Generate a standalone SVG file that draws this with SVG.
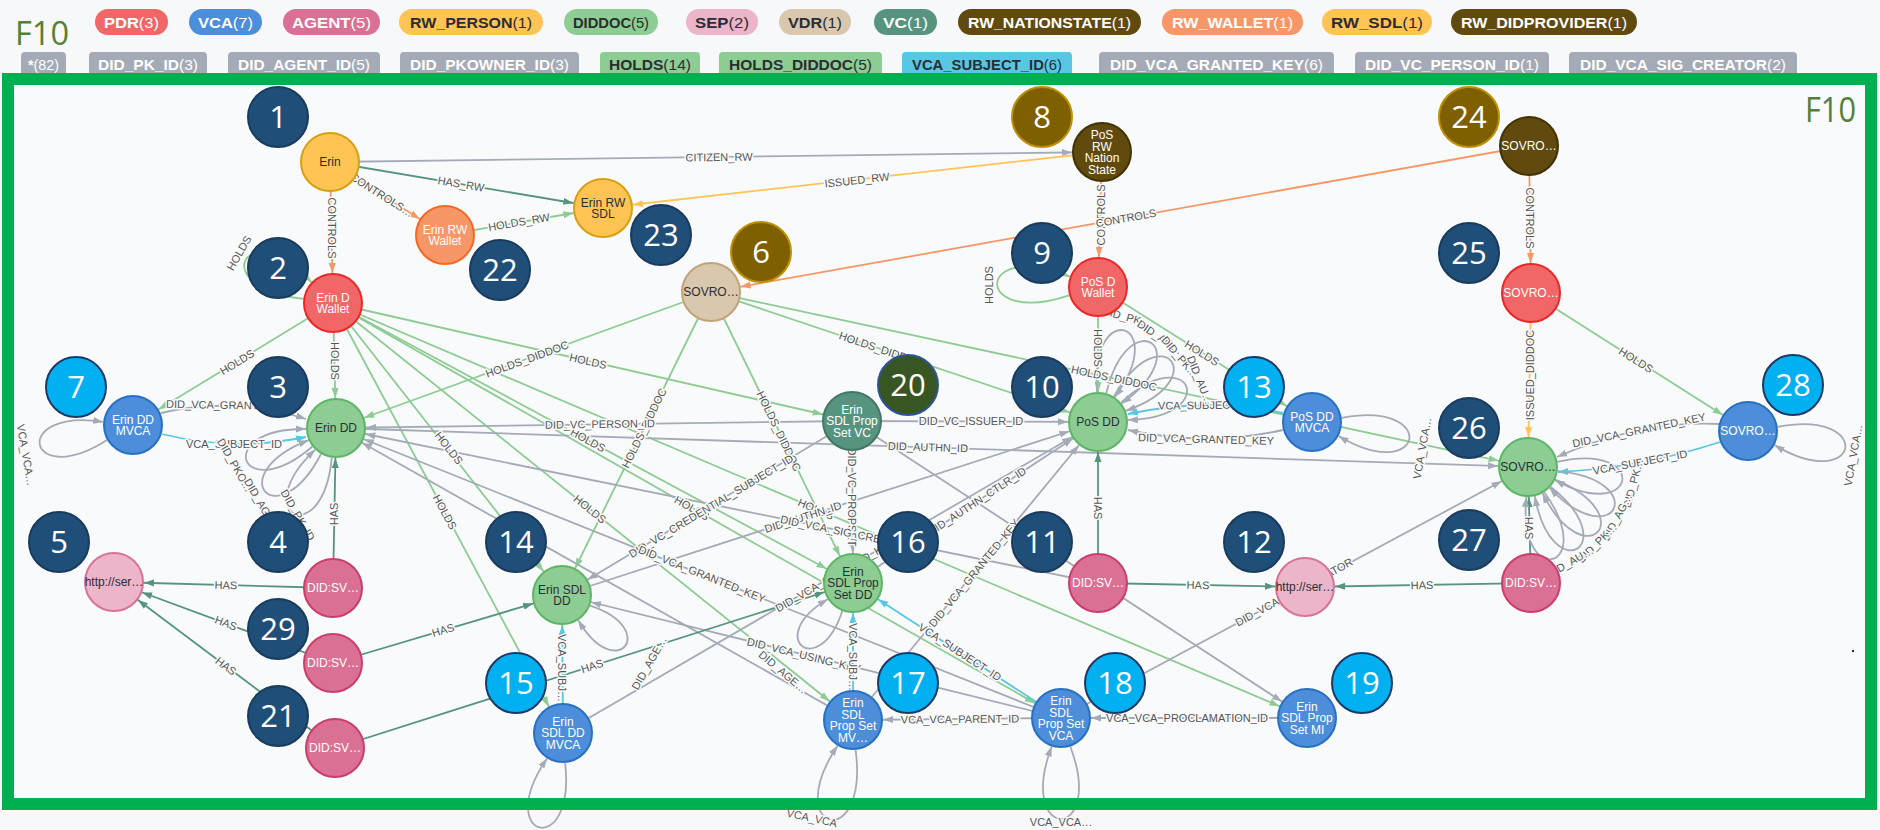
<svg xmlns="http://www.w3.org/2000/svg" width="1880" height="830" viewBox="0 0 1880 830">
<style>
.ln{fill:none;stroke-width:1.8}
.g{stroke:#a5abb6}.h{stroke:#8dcc93}.t{stroke:#569480}.o{stroke:#f79767}.y{stroke:#ffc454}.b{stroke:#57c7e3}
.el{font-family:"Liberation Sans Narrow","Liberation Sans",sans-serif;font-size:11px;fill:#555;text-anchor:middle;paint-order:stroke;stroke:#f9fafb;stroke-width:3px;stroke-linejoin:round}
.nd circle{stroke-width:2}
.nl{font-family:"Liberation Sans",Arial,sans-serif;font-size:12px;text-anchor:middle}
.w{fill:#fff}.d{fill:#2b2d33}
.pdr{fill:#f16667;stroke:#eb2728}.vca{fill:#4c8eda;stroke:#2870c2}.agent{fill:#da7194;stroke:#cc3c6c}
.yel{fill:#ffc454;stroke:#d7a013}.diddoc{fill:#8dcc93;stroke:#5db665}.sep{fill:#ecb5c9;stroke:#da7298}
.vdr{fill:#d9c8ae;stroke:#c0a378}.vc{fill:#569480;stroke:#447666}.brn{fill:#604a0e;stroke:#423204}.wal{fill:#f79767;stroke:#f36924}
.bd circle{stroke-width:2}
.bd text{font-family:"Open Sans","Noto Sans",sans-serif;font-size:31px;fill:#fff;text-anchor:middle}
.bn{fill:#1f4e79;stroke:#1a3b5c}.bl{fill:#00b0f0;stroke:#203864}.bo{fill:#7f6000;stroke:#bf9000}.bgr{fill:#375623;stroke:#2f5597}
.lg{font-family:"Liberation Sans",Arial,sans-serif;font-size:15px;text-anchor:middle}
.lg2{font-size:14.5px}
.lg tspan.c{font-weight:normal}
.f10{font-family:"Open Sans","Noto Sans",sans-serif;fill:#538135}
</style>
<defs>
<marker id="mg" markerWidth="10" markerHeight="8" refX="40" refY="4" orient="auto" markerUnits="userSpaceOnUse"><path d="M0,0.5L10,4L0,7.5z" fill="#a5abb6"/></marker>
<marker id="mh" markerWidth="10" markerHeight="8" refX="40" refY="4" orient="auto" markerUnits="userSpaceOnUse"><path d="M0,0.5L10,4L0,7.5z" fill="#8dcc93"/></marker>
<marker id="mt" markerWidth="10" markerHeight="8" refX="40" refY="4" orient="auto" markerUnits="userSpaceOnUse"><path d="M0,0.5L10,4L0,7.5z" fill="#569480"/></marker>
<marker id="mo" markerWidth="10" markerHeight="8" refX="40" refY="4" orient="auto" markerUnits="userSpaceOnUse"><path d="M0,0.5L10,4L0,7.5z" fill="#f79767"/></marker>
<marker id="my" markerWidth="10" markerHeight="8" refX="40" refY="4" orient="auto" markerUnits="userSpaceOnUse"><path d="M0,0.5L10,4L0,7.5z" fill="#ffc454"/></marker>
<marker id="mb" markerWidth="10" markerHeight="8" refX="40" refY="4" orient="auto" markerUnits="userSpaceOnUse"><path d="M0,0.5L10,4L0,7.5z" fill="#57c7e3"/></marker>
<marker id="tg" markerWidth="10" markerHeight="8" refX="10" refY="4" orient="auto" markerUnits="userSpaceOnUse"><path d="M0,0.5L10,4L0,7.5z" fill="#a5abb6"/></marker>
<marker id="th" markerWidth="10" markerHeight="8" refX="10" refY="4" orient="auto" markerUnits="userSpaceOnUse"><path d="M0,0.5L10,4L0,7.5z" fill="#8dcc93"/></marker>
<marker id="tb" markerWidth="10" markerHeight="8" refX="10" refY="4" orient="auto" markerUnits="userSpaceOnUse"><path d="M0,0.5L10,4L0,7.5z" fill="#57c7e3"/></marker>
</defs>
<rect x="0" y="0" width="1880" height="830" fill="#f7f8fa"/>
<rect x="14" y="85" width="1851" height="713" fill="#f9fafb"/>

<g id="legend">
<text class="f10" x="15" y="45" font-size="32" textLength="54" lengthAdjust="spacingAndGlyphs">F10</text>
<rect x="95" y="9" width="73" height="26" rx="13" fill="#f16667"/><text class="lg w" x="131.5" y="27.5" textLength="55" lengthAdjust="spacingAndGlyphs"><tspan font-weight="bold">PDR</tspan><tspan class="c">(3)</tspan></text>
<rect x="189" y="9" width="73" height="26" rx="13" fill="#4c8eda"/><text class="lg w" x="225.5" y="27.5" textLength="55" lengthAdjust="spacingAndGlyphs"><tspan font-weight="bold">VCA</tspan><tspan class="c">(7)</tspan></text>
<rect x="283" y="9" width="97" height="26" rx="13" fill="#da7194"/><text class="lg w" x="331.5" y="27.5" textLength="79" lengthAdjust="spacingAndGlyphs"><tspan font-weight="bold">AGENT</tspan><tspan class="c">(5)</tspan></text>
<rect x="399" y="9" width="144" height="26" rx="13" fill="#ffc454"/><text class="lg d" x="471" y="27.5" textLength="122" lengthAdjust="spacingAndGlyphs"><tspan font-weight="bold">RW_PERSON</tspan><tspan class="c">(1)</tspan></text>
<rect x="564" y="9" width="94" height="26" rx="13" fill="#8dcc93"/><text class="lg d" x="611" y="27.5" textLength="76" lengthAdjust="spacingAndGlyphs"><tspan font-weight="bold">DIDDOC</tspan><tspan class="c">(5)</tspan></text>
<rect x="686" y="9" width="72" height="26" rx="13" fill="#ecb5c9"/><text class="lg d" x="722" y="27.5" textLength="54" lengthAdjust="spacingAndGlyphs"><tspan font-weight="bold">SEP</tspan><tspan class="c">(2)</tspan></text>
<rect x="779" y="9" width="72" height="26" rx="13" fill="#d9c8ae"/><text class="lg d" x="815" y="27.5" textLength="54" lengthAdjust="spacingAndGlyphs"><tspan font-weight="bold">VDR</tspan><tspan class="c">(1)</tspan></text>
<rect x="874" y="9" width="63" height="26" rx="13" fill="#569480"/><text class="lg w" x="905.5" y="27.5" textLength="45" lengthAdjust="spacingAndGlyphs"><tspan font-weight="bold">VC</tspan><tspan class="c">(1)</tspan></text>
<rect x="958" y="9" width="183" height="26" rx="13" fill="#604a0e"/><text class="lg w" x="1049.5" y="27.5" textLength="163" lengthAdjust="spacingAndGlyphs"><tspan font-weight="bold">RW_NATIONSTATE</tspan><tspan class="c">(1)</tspan></text>
<rect x="1162" y="9" width="141" height="26" rx="13" fill="#f79767"/><text class="lg w" x="1232.5" y="27.5" textLength="121" lengthAdjust="spacingAndGlyphs"><tspan font-weight="bold">RW_WALLET</tspan><tspan class="c">(1)</tspan></text>
<rect x="1322" y="9" width="110" height="26" rx="13" fill="#ffc454"/><text class="lg d" x="1377" y="27.5" textLength="92" lengthAdjust="spacingAndGlyphs"><tspan font-weight="bold">RW_SDL</tspan><tspan class="c">(1)</tspan></text>
<rect x="1451" y="9" width="186" height="26" rx="13" fill="#604a0e"/><text class="lg w" x="1544" y="27.5" textLength="166" lengthAdjust="spacingAndGlyphs"><tspan font-weight="bold">RW_DIDPROVIDER</tspan><tspan class="c">(1)</tspan></text>
<rect x="21" y="52" width="45" height="26" rx="4" fill="#a5abb6"/><text class="lg lg2 w" x="43.5" y="70" textLength="31" lengthAdjust="spacingAndGlyphs"><tspan font-weight="bold">*</tspan><tspan class="c">(82)</tspan></text>
<rect x="89" y="52" width="118" height="26" rx="4" fill="#a5abb6"/><text class="lg lg2 w" x="148" y="70" textLength="100" lengthAdjust="spacingAndGlyphs"><tspan font-weight="bold">DID_PK_ID</tspan><tspan class="c">(3)</tspan></text>
<rect x="228" y="52" width="152" height="26" rx="4" fill="#a5abb6"/><text class="lg lg2 w" x="304" y="70" textLength="132" lengthAdjust="spacingAndGlyphs"><tspan font-weight="bold">DID_AGENT_ID</tspan><tspan class="c">(5)</tspan></text>
<rect x="400" y="52" width="179" height="26" rx="4" fill="#a5abb6"/><text class="lg lg2 w" x="489.5" y="70" textLength="159" lengthAdjust="spacingAndGlyphs"><tspan font-weight="bold">DID_PKOWNER_ID</tspan><tspan class="c">(3)</tspan></text>
<rect x="600" y="52" width="100" height="26" rx="4" fill="#8dcc93"/><text class="lg lg2 d" x="650" y="70" textLength="82" lengthAdjust="spacingAndGlyphs"><tspan font-weight="bold">HOLDS</tspan><tspan class="c">(14)</tspan></text>
<rect x="719" y="52" width="163" height="26" rx="4" fill="#8dcc93"/><text class="lg lg2 d" x="800.5" y="70" textLength="143" lengthAdjust="spacingAndGlyphs"><tspan font-weight="bold">HOLDS_DIDDOC</tspan><tspan class="c">(5)</tspan></text>
<rect x="902" y="52" width="170" height="26" rx="4" fill="#57c7e3"/><text class="lg lg2 d" x="987" y="70" textLength="150" lengthAdjust="spacingAndGlyphs"><tspan font-weight="bold">VCA_SUBJECT_ID</tspan><tspan class="c">(6)</tspan></text>
<rect x="1099" y="52" width="235" height="26" rx="4" fill="#a5abb6"/><text class="lg lg2 w" x="1216.5" y="70" textLength="213" lengthAdjust="spacingAndGlyphs"><tspan font-weight="bold">DID_VCA_GRANTED_KEY</tspan><tspan class="c">(6)</tspan></text>
<rect x="1355" y="52" width="194" height="26" rx="4" fill="#a5abb6"/><text class="lg lg2 w" x="1452" y="70" textLength="174" lengthAdjust="spacingAndGlyphs"><tspan font-weight="bold">DID_VC_PERSON_ID</tspan><tspan class="c">(1)</tspan></text>
<rect x="1569" y="52" width="228" height="26" rx="4" fill="#a5abb6"/><text class="lg lg2 w" x="1683" y="70" textLength="206" lengthAdjust="spacingAndGlyphs"><tspan font-weight="bold">DID_VCA_SIG_CREATOR</tspan><tspan class="c">(2)</tspan></text>
</g>

<g id="connectors">
<g id="edge-lines">
<line class="ln g" x1="330" y1="162" x2="1102" y2="152" marker-end="url(#mg)"/>
<line class="ln t" x1="330" y1="162" x2="603" y2="208" marker-end="url(#mt)"/>
<line class="ln o" x1="330" y1="162" x2="445" y2="235" marker-end="url(#mo)"/>
<line class="ln o" x1="330" y1="162" x2="333" y2="303" marker-end="url(#mo)"/>
<line class="ln h" x1="445" y1="235" x2="603" y2="208" marker-end="url(#mh)"/>
<line class="ln y" x1="1102" y1="152" x2="603" y2="208" marker-end="url(#my)"/>
<line class="ln o" x1="1102" y1="152" x2="1098" y2="287" marker-end="url(#mo)"/>
<line class="ln o" x1="1529" y1="146" x2="711" y2="292" marker-end="url(#mo)"/>
<line class="ln o" x1="1529" y1="146" x2="1531" y2="293" marker-end="url(#mo)"/>
<line class="ln y" x1="1531" y1="293" x2="1528" y2="467" marker-end="url(#my)"/>
<line class="ln h" x1="1531" y1="293" x2="1748" y2="431" marker-end="url(#mh)"/>
<path class="ln h" d="M303.3,298.8C205.6,289.6 244,211 311.4,282.2" marker-end="url(#th)"/>
<line class="ln h" x1="333" y1="303" x2="336" y2="428" marker-end="url(#mh)"/>
<line class="ln h" x1="333" y1="303" x2="133" y2="425" marker-end="url(#mh)"/>
<line class="ln h" x1="333" y1="303" x2="852" y2="421" marker-end="url(#mh)"/>
<line class="ln h" x1="333" y1="303" x2="563" y2="733" marker-end="url(#mh)"/>
<line class="ln h" x1="333" y1="303" x2="562" y2="595" marker-end="url(#mh)"/>
<line class="ln h" x1="333" y1="303" x2="853" y2="583" marker-end="url(#mh)"/>
<line class="ln h" x1="333" y1="303" x2="853" y2="720" marker-end="url(#mh)"/>
<line class="ln h" x1="333" y1="303" x2="1061" y2="718" marker-end="url(#mh)"/>
<line class="ln h" x1="333" y1="303" x2="1307" y2="718" marker-end="url(#mh)"/>
<line class="ln h" x1="711" y1="292" x2="336" y2="428" marker-end="url(#mh)"/>
<line class="ln h" x1="711" y1="292" x2="562" y2="595" marker-end="url(#mh)"/>
<line class="ln h" x1="711" y1="292" x2="853" y2="583" marker-end="url(#mh)"/>
<line class="ln h" x1="711" y1="292" x2="1098" y2="422" marker-end="url(#mh)"/>
<line class="ln h" x1="711" y1="292" x2="1528" y2="467" marker-end="url(#mh)"/>
<path class="ln h" d="M1069.2,295.3C971.5,328.1 974.7,237.1 1069.8,276.7" marker-end="url(#th)"/>
<line class="ln h" x1="1098" y1="287" x2="1098" y2="422" marker-end="url(#mh)"/>
<line class="ln h" x1="1098" y1="287" x2="1312" y2="422" marker-end="url(#mh)"/>
<line class="ln g" x1="852" y1="421" x2="1098" y2="422" marker-end="url(#mg)"/>
<line class="ln g" x1="852" y1="421" x2="336" y2="428" marker-end="url(#mg)"/>
<line class="ln g" x1="336" y1="428" x2="1528" y2="467" marker-end="url(#mg)"/>
<path class="ln g" d="M1283,430Q1206,447 1128,430" marker-end="url(#tg)"/>
<path class="ln b" d="M1283,413Q1206,397 1128,414" marker-end="url(#tb)"/>
<line class="ln g" x1="563" y1="733" x2="1098" y2="422" marker-end="url(#mg)"/>
<line class="ln g" x1="853" y1="720" x2="1098" y2="422" marker-end="url(#mg)"/>
<line class="ln g" x1="853" y1="583" x2="1098" y2="422" marker-end="url(#mg)"/>
<line class="ln g" x1="562" y1="595" x2="1098" y2="422" marker-end="url(#mg)"/>
<line class="ln g" x1="852" y1="421" x2="562" y2="595" marker-end="url(#mg)"/>
<line class="ln g" x1="1061" y1="718" x2="336" y2="428" marker-end="url(#mg)"/>
<line class="ln g" x1="1061" y1="718" x2="562" y2="595" marker-end="url(#mg)"/>
<line class="ln g" x1="852" y1="421" x2="853" y2="583" marker-end="url(#mg)"/>
<line class="ln g" x1="852" y1="421" x2="1307" y2="718" marker-end="url(#mg)"/>
<line class="ln g" x1="853" y1="720" x2="336" y2="428" marker-end="url(#mg)"/>
<line class="ln g" x1="1098" y1="583" x2="336" y2="428" marker-end="url(#mg)"/>
<line class="ln g" x1="1061" y1="718" x2="1528" y2="467" marker-end="url(#mg)"/>
<line class="ln g" x1="1061" y1="718" x2="853" y2="720" marker-end="url(#mg)"/>
<line class="ln g" x1="1307" y1="718" x2="1061" y2="718" marker-end="url(#mg)"/>
<line class="ln b" x1="1061" y1="718" x2="853" y2="583" marker-end="url(#mb)"/>
<line class="ln b" x1="853" y1="720" x2="853" y2="583" marker-end="url(#mb)"/>
<line class="ln b" x1="563" y1="733" x2="562" y2="595" marker-end="url(#mb)"/>
<path class="ln g" d="M161,413Q234,396 306,419" marker-end="url(#tg)"/>
<path class="ln b" d="M162,434Q234,452 306,437" marker-end="url(#tb)"/>
<line class="ln t" x1="333" y1="588" x2="114" y2="582" marker-end="url(#mt)"/>
<line class="ln t" x1="333" y1="588" x2="336" y2="428" marker-end="url(#mt)"/>
<line class="ln t" x1="333" y1="663" x2="114" y2="582" marker-end="url(#mt)"/>
<line class="ln t" x1="333" y1="663" x2="562" y2="595" marker-end="url(#mt)"/>
<line class="ln t" x1="335" y1="748" x2="114" y2="582" marker-end="url(#mt)"/>
<line class="ln t" x1="335" y1="748" x2="853" y2="583" marker-end="url(#mt)"/>
<line class="ln t" x1="1098" y1="583" x2="1098" y2="422" marker-end="url(#mt)"/>
<line class="ln t" x1="1098" y1="583" x2="1305" y2="587" marker-end="url(#mt)"/>
<line class="ln t" x1="1531" y1="583" x2="1528" y2="467" marker-end="url(#mt)"/>
<line class="ln t" x1="1531" y1="583" x2="1305" y2="587" marker-end="url(#mt)"/>
<path class="ln g" d="M1719,424Q1640,420 1557,457" marker-end="url(#tg)"/>
<path class="ln b" d="M1720,442Q1641,468 1558,472" marker-end="url(#tb)"/>
<path class="ln g" d="M312.4,446.5C240.2,508.4 211,428 306,429" marker-end="url(#tg)"/>
<path class="ln g" d="M321,454C277.3,538.4 220.1,474.8 308.6,440.2" marker-end="url(#tg)"/>
<path class="ln g" d="M331.8,457.7C322.9,552.4 246.1,514.8 315.2,449.6" marker-end="url(#tg)"/>
<path class="ln g" d="M1097,392C1089.3,297.3 1171.5,320.9 1114.8,397.1" marker-end="url(#tg)"/>
<path class="ln g" d="M1106.3,393.2C1128.3,300.7 1199.1,348.5 1121.6,403.5" marker-end="url(#tg)"/>
<path class="ln g" d="M1113.9,396.6C1160.5,313.7 1215.5,379.3 1125.8,410.8" marker-end="url(#tg)"/>
<path class="ln g" d="M1121,402.7C1190.9,338.4 1222.9,417.6 1127.9,419.9" marker-end="url(#tg)"/>
<path class="ln g" d="M1557.5,461.8C1650.3,441 1638.4,525.6 1555,480.1" marker-end="url(#tg)"/>
<path class="ln g" d="M1557.7,471.2C1652.4,480.1 1614.9,556.9 1549.6,487.8" marker-end="url(#tg)"/>
<path class="ln g" d="M1555.2,479.7C1643.1,515.9 1584.8,578.4 1542.5,493.2" marker-end="url(#tg)"/>
<path class="ln g" d="M1550.6,486.7C1625.1,545.6 1551.9,589.8 1534.8,496.2" marker-end="url(#tg)"/>
<path class="ln g" d="M1544.3,492.2C1599.8,569.4 1517.1,591.5 1526.4,497" marker-end="url(#tg)"/>
<path class="ln g" d="M590,605.7C661.3,629.2 616.1,685 578.3,620.2" marker-end="url(#tg)"/>
<path class="ln g" d="M842.3,611C818.8,682.3 763,637.1 827.8,599.3" marker-end="url(#tg)"/>
<path class="ln g" d="M107,440C27,491.2 9.2,407.6 103.2,421.9" marker-end="url(#tg)"/>
<path class="ln g" d="M1341.7,417.8C1440,399.4 1424.6,487 1338.5,436.1" marker-end="url(#tg)"/>
<path class="ln g" d="M1777.7,426.8C1876,408.4 1860.6,496 1774.5,445.1" marker-end="url(#tg)"/>
<path class="ln g" d="M565.1,762.9C576.4,860.4 491.4,839.1 547.1,758.4" marker-end="url(#tg)"/>
<path class="ln g" d="M855.6,749.9C869.5,854.1 779.4,833.3 837.5,745.7" marker-end="url(#tg)"/>
<path class="ln g" d="M1070.3,746.5C1106.5,843 1015.5,843 1051.7,746.5" marker-end="url(#tg)"/>
</g>
<g id="edge-labels">
<text class="el" x="719" y="161" transform="rotate(-0.7 719 157)">CITIZEN_RW</text>
<text class="el" x="461" y="188" transform="rotate(9.6 461 184)">HAS_RW</text>
<text class="el" x="382" y="199" transform="rotate(32.4 382 195)">CONTROLS…</text>
<text class="el" x="332" y="232" transform="rotate(90 332 228)">CONTROLS</text>
<text class="el" x="519" y="226" transform="rotate(-9.7 519 222)">HOLDS_RW</text>
<text class="el" x="857" y="184" transform="rotate(-6.4 857 180)">ISSUED_RW</text>
<text class="el" x="1101" y="219" transform="rotate(-90 1101 215)">CONTROLS</text>
<text class="el" x="1126" y="222" transform="rotate(-10.1 1126 218)">CONTROLS</text>
<text class="el" x="1530" y="222" transform="rotate(90 1530 218)">CONTROLS</text>
<text class="el" x="1530" y="379" transform="rotate(-90 1530 375)">ISSUED_DIDDOC</text>
<text class="el" x="1636" y="364" transform="rotate(32.5 1636 360)">HOLDS</text>
<text class="el" x="239" y="257" transform="rotate(-60 239 253)">HOLDS</text>
<text class="el" x="335" y="365" transform="rotate(90 335 361)">HOLDS</text>
<text class="el" x="237" y="366" transform="rotate(-31.4 237 362)">HOLDS</text>
<text class="el" x="588" y="365" transform="rotate(12.8 588 361)">HOLDS</text>
<text class="el" x="445" y="516" transform="rotate(61.9 445 512)">HOLDS</text>
<text class="el" x="449" y="452" transform="rotate(51.9 449 448)">HOLDS</text>
<text class="el" x="588" y="444" transform="rotate(28.3 588 440)">HOLDS</text>
<text class="el" x="590" y="513" transform="rotate(38.7 590 509)">HOLDS</text>
<text class="el" x="692" y="512" transform="rotate(29.7 692 508)">HOLDS</text>
<text class="el" x="816" y="513" transform="rotate(23.1 816 509)">HOLDS</text>
<text class="el" x="527" y="363" transform="rotate(-19.9 527 359)">HOLDS_DIDDOC</text>
<text class="el" x="644" y="432" transform="rotate(-63.8 644 428)">HOLDS_DIDDOC</text>
<text class="el" x="779" y="435" transform="rotate(64 779 431)">HOLDS_DIDDOC</text>
<text class="el" x="881" y="353" transform="rotate(18.6 881 349)">HOLDS_DIDDOC</text>
<text class="el" x="1114" y="382" transform="rotate(12.1 1114 378)">HOLDS_DIDDOC</text>
<text class="el" x="989" y="289" transform="rotate(-90 989 285)">HOLDS</text>
<text class="el" x="1098" y="352" transform="rotate(90 1098 348)">HOLDS</text>
<text class="el" x="1202" y="357" transform="rotate(32.2 1202 353)">HOLDS</text>
<text class="el" x="971" y="425">DID_VC_ISSUER_ID</text>
<text class="el" x="600" y="428" transform="rotate(-0.8 600 424)">DID_VC_PERSON_ID</text>
<text class="el" x="928" y="451" transform="rotate(1.9 928 447)">DID_AUTHN_ID</text>
<text class="el" x="1206" y="443" transform="rotate(1.5 1206 439)">DID_VCA_GRANTED_KEY</text>
<text class="el" x="1206" y="409" transform="rotate(-0.7 1206 405)">VCA_SUBJECT_ID</text>
<text class="el" x="835" y="579" transform="rotate(-30.2 835 575)">DID_VCA_GRANTED_KEY</text>
<text class="el" x="974" y="577" transform="rotate(-50.6 974 573)">DID_VCA_GRANTED_KEY</text>
<text class="el" x="977" y="505" transform="rotate(-33.3 977 501)">DID_AUTHN_CTLR_ID</text>
<text class="el" x="803" y="521" transform="rotate(-17.9 803 517)">DID_AUTHN_ID</text>
<text class="el" x="711" y="510" transform="rotate(-31 711 506)">DID_VC_CREDENTIAL_SUBJECT_ID</text>
<text class="el" x="702" y="578" transform="rotate(21.8 702 574)">DID_VCA_GRANTED_KEY</text>
<text class="el" x="804" y="659" transform="rotate(13.8 804 655)">DID_VCA_USING_KEY</text>
<text class="el" x="852" y="501" transform="rotate(90 852 497)">DID_VC_PROPSET</text>
<text class="el" x="845" y="536" transform="rotate(11.5 845 532)">DID_VCA_SIG_CREATOR</text>
<text class="el" x="1294" y="596" transform="rotate(-28.3 1294 592)">DID_VCA_SIG_CREATOR</text>
<text class="el" x="960" y="723" transform="rotate(-0.6 960 719)">VCA_VCA_PARENT_ID</text>
<text class="el" x="1187" y="722">VCA_VCA_PROCLAMATION_ID</text>
<text class="el" x="960" y="656" transform="rotate(33 960 652)">VCA_SUBJECT_ID</text>
<text class="el" x="853" y="661" transform="rotate(90 853 657)">VCA_SUBJ…</text>
<text class="el" x="562" y="672" transform="rotate(90 562 668)">VCA_SUBJ…</text>
<text class="el" x="234" y="409" transform="rotate(1 234 405)">DID_VCA_GRANTED_KEY</text>
<text class="el" x="234" y="448">VCA_SUBJECT_ID</text>
<text class="el" x="226" y="589" transform="rotate(1.6 226 585)">HAS</text>
<text class="el" x="334" y="518" transform="rotate(-90 334 514)">HAS</text>
<text class="el" x="226" y="627" transform="rotate(20.3 226 623)">HAS</text>
<text class="el" x="443" y="634" transform="rotate(-16.5 443 630)">HAS</text>
<text class="el" x="226" y="670" transform="rotate(36.9 226 666)">HAS</text>
<text class="el" x="592" y="670" transform="rotate(-17.7 592 666)">HAS</text>
<text class="el" x="1098" y="512" transform="rotate(90 1098 508)">HAS</text>
<text class="el" x="1198" y="589" transform="rotate(1.1 1198 585)">HAS</text>
<text class="el" x="1529" y="532" transform="rotate(90 1529 528)">HAS</text>
<text class="el" x="1422" y="589" transform="rotate(-1 1422 585)">HAS</text>
<text class="el" x="1639" y="434" transform="rotate(-11.5 1639 430)">DID_VCA_GRANTED_KEY</text>
<text class="el" x="1640" y="466" transform="rotate(-10.5 1640 462)">VCA_SUBJECT_ID</text>
<text class="el" x="235" y="469" transform="rotate(60 235 465)">DID_PKO…</text>
<text class="el" x="262" y="509" transform="rotate(60 262 505)">DID_AGE…</text>
<text class="el" x="298" y="519" transform="rotate(60 298 515)">DID_PK_ID</text>
<text class="el" x="1127" y="321" transform="rotate(16 1127 317)">DID_PK…</text>
<text class="el" x="1160" y="341" transform="rotate(34 1160 337)">DID_AG…</text>
<text class="el" x="1180" y="361" transform="rotate(50 1180 357)">DID_PK…</text>
<text class="el" x="1200" y="384" transform="rotate(68 1200 380)">DID_AU…</text>
<text class="el" x="1633" y="487" transform="rotate(-75 1633 483)">DID_PK…</text>
<text class="el" x="1617" y="521" transform="rotate(-62 1617 517)">DID_AG…</text>
<text class="el" x="1597" y="547" transform="rotate(-45 1597 543)">DID_PK…</text>
<text class="el" x="1570" y="566" transform="rotate(-30 1570 562)">DID_AU…</text>
<text class="el" x="649" y="667" transform="rotate(-60 649 663)">DID_AGE…</text>
<text class="el" x="783" y="676" transform="rotate(40 783 672)">DID_AGE…</text>
<text class="el" x="26" y="459" transform="rotate(80 26 455)">VCA_VCA…</text>
<text class="el" x="1422" y="452" transform="rotate(-80 1422 448)">VCA_VCA…</text>
<text class="el" x="1853" y="459" transform="rotate(-80 1853 455)">VCA_VCA…</text>
<text class="el" x="812" y="822" transform="rotate(12 812 818)">VCA_VCA</text>
<text class="el" x="1061" y="826">VCA_VCA…</text>
</g>
</g>

<g id="nodes" class="nd">
<g id="n-erin"><circle class="yel" cx="330" cy="162" r="29"/><text class="nl d" x="330" y="166">Erin</text></g>
<g id="n-erin-rw-wallet"><circle class="wal" cx="445" cy="235" r="29"/><text class="nl w" x="445" y="233.5">Erin RW<tspan x="445" dy="11.5">Wallet</tspan></text></g>
<g id="n-erin-rw-sdl"><circle class="yel" cx="603" cy="208" r="29"/><text class="nl d" x="603" y="206.5">Erin RW<tspan x="603" dy="11.5">SDL</tspan></text></g>
<g id="n-erin-d-wallet"><circle class="pdr" cx="333" cy="303" r="29"/><text class="nl w" x="333" y="301.5">Erin D<tspan x="333" dy="11.5">Wallet</tspan></text></g>
<g id="n-erin-dd-mvca"><circle class="vca" cx="133" cy="425" r="29"/><text class="nl w" x="133" y="423.5">Erin DD<tspan x="133" dy="11.5">MVCA</tspan></text></g>
<g id="n-erin-dd"><circle class="diddoc" cx="336" cy="428" r="29"/><text class="nl d" x="336" y="432">Erin DD</text></g>
<g id="n-pos-rw"><circle class="brn" cx="1102" cy="152" r="29"/><text class="nl w" x="1102" y="139">PoS<tspan x="1102" dy="11.5">RW</tspan><tspan x="1102" dy="11.5">Nation</tspan><tspan x="1102" dy="11.5">State</tspan></text></g>
<g id="n-sovro-vdr"><circle class="vdr" cx="711" cy="292" r="29"/><text class="nl d" x="711" y="296">SOVRO…</text></g>
<g id="n-pos-d-wallet"><circle class="pdr" cx="1098" cy="287" r="29"/><text class="nl w" x="1098" y="285.5">PoS D<tspan x="1098" dy="11.5">Wallet</tspan></text></g>
<g id="n-prop-set-vc"><circle class="vc" cx="852" cy="421" r="29"/><text class="nl w" x="852" y="413.5">Erin<tspan x="852" dy="11.5">SDL Prop</tspan><tspan x="852" dy="11.5">Set VC</tspan></text></g>
<g id="n-pos-dd"><circle class="diddoc" cx="1098" cy="422" r="29"/><text class="nl d" x="1098" y="426">PoS DD</text></g>
<g id="n-pos-dd-mvca"><circle class="vca" cx="1312" cy="422" r="29"/><text class="nl w" x="1312" y="420.5">PoS DD<tspan x="1312" dy="11.5">MVCA</tspan></text></g>
<g id="n-sovro-rw"><circle class="brn" cx="1529" cy="146" r="29"/><text class="nl w" x="1529" y="150">SOVRO…</text></g>
<g id="n-sovro-pdr"><circle class="pdr" cx="1531" cy="293" r="29"/><text class="nl w" x="1531" y="297">SOVRO…</text></g>
<g id="n-sovro-dd"><circle class="diddoc" cx="1528" cy="467" r="29"/><text class="nl d" x="1528" y="471">SOVRO…</text></g>
<g id="n-sovro-vca"><circle class="vca" cx="1748" cy="431" r="29"/><text class="nl w" x="1748" y="435">SOVRO…</text></g>
<g id="n-sep-1"><circle class="sep" cx="114" cy="582" r="29"/><text class="nl d" x="114" y="586">http://ser…</text></g>
<g id="n-agent-1"><circle class="agent" cx="333" cy="588" r="29"/><text class="nl w" x="333" y="592">DID:SV…</text></g>
<g id="n-agent-2"><circle class="agent" cx="333" cy="663" r="29"/><text class="nl w" x="333" y="667">DID:SV…</text></g>
<g id="n-agent-3"><circle class="agent" cx="335" cy="748" r="29"/><text class="nl w" x="335" y="752">DID:SV…</text></g>
<g id="n-erin-sdl-dd"><circle class="diddoc" cx="562" cy="595" r="29"/><text class="nl d" x="562" y="593.5">Erin SDL<tspan x="562" dy="11.5">DD</tspan></text></g>
<g id="n-erin-sdl-dd-mvca"><circle class="vca" cx="563" cy="733" r="29"/><text class="nl w" x="563" y="725.5">Erin<tspan x="563" dy="11.5">SDL DD</tspan><tspan x="563" dy="11.5">MVCA</tspan></text></g>
<g id="n-prop-set-dd"><circle class="diddoc" cx="853" cy="583" r="29"/><text class="nl d" x="853" y="575.5">Erin<tspan x="853" dy="11.5">SDL Prop</tspan><tspan x="853" dy="11.5">Set DD</tspan></text></g>
<g id="n-prop-set-mv"><circle class="vca" cx="853" cy="720" r="29"/><text class="nl w" x="853" y="707">Erin<tspan x="853" dy="11.5">SDL</tspan><tspan x="853" dy="11.5">Prop Set</tspan><tspan x="853" dy="11.5">MV…</tspan></text></g>
<g id="n-prop-set-vca"><circle class="vca" cx="1061" cy="718" r="29"/><text class="nl w" x="1061" y="705">Erin<tspan x="1061" dy="11.5">SDL</tspan><tspan x="1061" dy="11.5">Prop Set</tspan><tspan x="1061" dy="11.5">VCA</tspan></text></g>
<g id="n-prop-set-mi"><circle class="vca" cx="1307" cy="718" r="29"/><text class="nl w" x="1307" y="710.5">Erin<tspan x="1307" dy="11.5">SDL Prop</tspan><tspan x="1307" dy="11.5">Set MI</tspan></text></g>
<g id="n-agent-4"><circle class="agent" cx="1098" cy="583" r="29"/><text class="nl w" x="1098" y="587">DID:SV…</text></g>
<g id="n-sep-2"><circle class="sep" cx="1305" cy="587" r="29"/><text class="nl d" x="1305" y="591">http://ser…</text></g>
<g id="n-agent-5"><circle class="agent" cx="1531" cy="583" r="29"/><text class="nl w" x="1531" y="587">DID:SV…</text></g>
</g>

<g id="badges" class="bd">
<g id="b1"><circle class="bn" cx="278" cy="117" r="30"/><text x="278" y="128">1</text></g>
<g id="b2"><circle class="bn" cx="278" cy="268" r="30"/><text x="278" y="279">2</text></g>
<g id="b3"><circle class="bn" cx="278" cy="387" r="30"/><text x="278" y="398">3</text></g>
<g id="b4"><circle class="bn" cx="278" cy="542" r="30"/><text x="278" y="553">4</text></g>
<g id="b5"><circle class="bn" cx="59" cy="542" r="30"/><text x="59" y="553">5</text></g>
<g id="b6"><circle class="bo" cx="761" cy="252" r="30"/><text x="761" y="263">6</text></g>
<g id="b7"><circle class="bl" cx="76" cy="387" r="30"/><text x="76" y="398">7</text></g>
<g id="b8"><circle class="bo" cx="1042" cy="117" r="30"/><text x="1042" y="128">8</text></g>
<g id="b9"><circle class="bn" cx="1042" cy="253" r="30"/><text x="1042" y="264">9</text></g>
<g id="b10"><circle class="bn" cx="1042" cy="387" r="30"/><text x="1042" y="398">10</text></g>
<g id="b11"><circle class="bn" cx="1042" cy="542" r="30"/><text x="1042" y="553">11</text></g>
<g id="b12"><circle class="bn" cx="1254" cy="542" r="30"/><text x="1254" y="553">12</text></g>
<g id="b13"><circle class="bl" cx="1254" cy="387" r="30"/><text x="1254" y="398">13</text></g>
<g id="b14"><circle class="bn" cx="516" cy="542" r="30"/><text x="516" y="553">14</text></g>
<g id="b15"><circle class="bl" cx="516" cy="683" r="30"/><text x="516" y="694">15</text></g>
<g id="b16"><circle class="bn" cx="908" cy="542" r="30"/><text x="908" y="553">16</text></g>
<g id="b17"><circle class="bl" cx="908" cy="683" r="30"/><text x="908" y="694">17</text></g>
<g id="b18"><circle class="bl" cx="1115" cy="683" r="30"/><text x="1115" y="694">18</text></g>
<g id="b19"><circle class="bl" cx="1362" cy="683" r="30"/><text x="1362" y="694">19</text></g>
<g id="b20"><circle class="bgr" cx="908" cy="385" r="30"/><text x="908" y="396">20</text></g>
<g id="b21"><circle class="bn" cx="278" cy="716" r="30"/><text x="278" y="727">21</text></g>
<g id="b22"><circle class="bn" cx="500" cy="270" r="30"/><text x="500" y="281">22</text></g>
<g id="b23"><circle class="bn" cx="661" cy="235" r="30"/><text x="661" y="246">23</text></g>
<g id="b24"><circle class="bo" cx="1469" cy="117" r="30"/><text x="1469" y="128">24</text></g>
<g id="b25"><circle class="bn" cx="1469" cy="253" r="30"/><text x="1469" y="264">25</text></g>
<g id="b26"><circle class="bn" cx="1469" cy="428" r="30"/><text x="1469" y="439">26</text></g>
<g id="b27"><circle class="bn" cx="1469" cy="540" r="30"/><text x="1469" y="551">27</text></g>
<g id="b28"><circle class="bl" cx="1793" cy="385" r="30"/><text x="1793" y="396">28</text></g>
<g id="b29"><circle class="bn" cx="278" cy="629" r="30"/><text x="278" y="640">29</text></g>
</g>

<g id="frame">
<rect x="8" y="79" width="1863" height="725" fill="none" stroke="#00b050" stroke-width="12"/>
<text class="f10" x="1805" y="122" font-size="34" textLength="51" lengthAdjust="spacingAndGlyphs">F10</text>
<circle cx="1853" cy="651" r="1.2" fill="#333"/>
</g>
</svg>
